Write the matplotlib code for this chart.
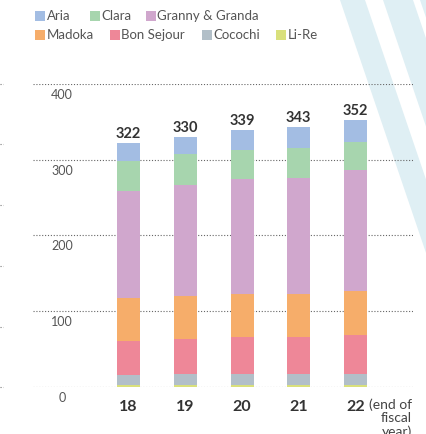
import matplotlib
matplotlib.use("Agg")
import matplotlib.pyplot as plt
from matplotlib.patches import Rectangle, Polygon
import numpy as np

years = ["18", "19", "20", "21", "22"]
totals = [322, 330, 339, 343, 352]
# stacked from bottom to top
series_names = ["Li-Re", "Cocochi", "Bon Sejour", "Madoka", "Granny & Granda", "Clara", "Aria"]
li_re = [2, 2, 2, 2, 2]
cocochi = [13, 15, 15, 15, 15]
bon_sejour = [45, 46, 49, 49, 51]
madoka = [57, 57, 57, 57, 58]
granny = [141, 146, 152, 153, 160]
clara = [40, 41, 38, 40, 37]
aria = [24, 23, 26, 27, 29]
yticks = [0, 100, 200, 300, 400]

colors = {
    "Aria": "#a3bde3",
    "Clara": "#a7d5ae",
    "Granny & Granda": "#d0a7cd",
    "Madoka": "#f6ad6a",
    "Bon Sejour": "#ee8798",
    "Cocochi": "#b2bfc8",
    "Li-Re": "#d9e07b",
}
values = [li_re, cocochi, bon_sejour, madoka, granny, clara, aria]

W, H = 427, 434
fig = plt.figure(figsize=(W / 100, H / 100), dpi=100)
plt.rcParams['font.family'] = ['Lato', 'DejaVu Sans']

def fx(px):
    return px / W

def fy(py):
    return 1 - py / H

# background stripes
bg = fig.add_axes([0, 0, 1, 1], zorder=0)
bg.set_xlim(0, W)
bg.set_ylim(H, 0)
bg.axis("off")
slope = 0.34
stripe_col = "#dfeff4"
for x0, wdt in [(340, 25), (383, 30), (420, 30)]:
    yb = 434
    poly = Polygon([(x0, 0), (x0 + wdt, 0), (x0 + wdt + slope * yb, yb), (x0 + slope * yb, yb)],
                   closed=True, facecolor=stripe_col, edgecolor="none")
    bg.add_patch(poly)
# dashes from neighbouring chart at far left
for py in [84, 144, 205, 266, 327, 387]:
    bg.plot([0, 3], [py, py], color="#777777", lw=0.8, ls=(0, (1, 1.5)))

# main axes
left, right = 33, 413
top, bottom = 84, 386.7
ax = fig.add_axes([fx(left), fy(bottom), fx(right - left), (bottom - top) / H], zorder=1)
ax.patch.set_alpha(0)
spacing = 56.75
xl = -(128.5 - left) / spacing
ax.set_xlim(xl, xl + (right - left) / spacing)
ax.set_ylim(0, 400)
for s in ax.spines.values():
    s.set_visible(False)
ax.set_xticks([])
ax.set_yticks([])

for yv in yticks:
    ax.axhline(yv, color="#666666", lw=0.8, ls=(0, (1, 1.6)), zorder=1)
    ax.annotate(str(yv), xy=(0, yv), xycoords=("axes fraction", "data"),
                xytext=(29, -11), textcoords="offset pixels", ha="center", va="center",
                fontsize=9, color="#555555")

x = np.arange(len(years))
bw = 23 / spacing
bottoms = np.zeros(len(years))
for name, vals in zip(series_names, values):
    ax.bar(x, vals, bw, bottom=bottoms, color=colors[name], edgecolor="none", zorder=2)
    bottoms += np.array(vals)

for xi, t in zip(x, totals):
    ax.annotate(str(t), xy=(xi, t), xytext=(0, 9), textcoords="offset pixels",
                ha="center", va="center", fontsize=10.5, fontweight="bold", color="#333333")

for xi, yl in zip(x, years):
    ax.annotate(yl, xy=(xi, 0), xytext=(0, -20), textcoords="offset pixels",
                ha="center", va="center", fontsize=11.5, fontweight="bold", color="#333333")

fig.text(fx(412), fy(398), "(end of\nfiscal\nyear)", ha="right", va="top", fontsize=10,
         color="#444444", linespacing=1.15, multialignment="right")

# legend
leg_rows = [
    [("Aria", 35), ("Clara", 90), ("Granny & Granda", 146)],
    [("Madoka", 35), ("Bon Sejour", 110), ("Cocochi", 202), ("Li-Re", 276)],
]
for row, py in zip(leg_rows, [16, 35]):
    for name, px in row:
        bg.add_patch(Rectangle((px, py - 5), 10, 10, facecolor=colors[name], edgecolor="none"))
        bg.text(px + 11.5, py, name, ha="left", va="center", fontsize=9.5, color="#555555")

fig.savefig("out.png", dpi=100)
